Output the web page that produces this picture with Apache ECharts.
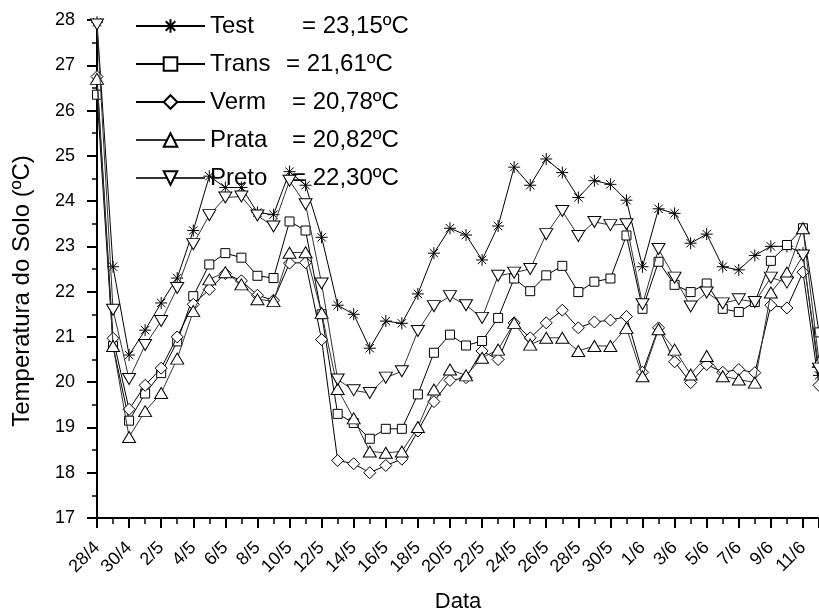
<!DOCTYPE html>
<html>
<head>
<meta charset="utf-8">
<script src="https://cdn.jsdelivr.net/npm/echarts@6/dist/echarts.min.js"></script>
<style>
  html, body { margin: 0; padding: 0; background: #fff; }
  #chart { width: 819px; height: 614px; }
</style>
</head>
<body>
<div id="chart"></div>
<script>
// dias de 28/4 a 12/6
const dates = [
  '28/4', '29/4', '30/4', '1/5', '2/5', '3/5', '4/5', '5/5', '6/5', '7/5',
  '8/5', '9/5', '10/5', '11/5', '12/5', '13/5', '14/5', '15/5', '16/5', '17/5',
  '18/5', '19/5', '20/5', '21/5', '22/5', '23/5', '24/5', '25/5', '26/5', '27/5',
  '28/5', '29/5', '30/5', '31/5', '1/6', '2/6', '3/6', '4/6', '5/6', '6/6',
  '7/6', '8/6', '9/6', '10/6', '11/6', '12/6'
]

const test = [
  27.95, 22.55, 20.6, 21.15, 21.75, 22.3, 23.35, 24.55, 24.3, 24.3,
  23.75, 23.7, 24.65, 24.35, 23.2, 21.7, 21.5, 20.75, 21.35, 21.3,
  21.95, 22.85, 23.4, 23.25, 22.7, 23.45, 24.75, 24.35, 24.93, 24.63,
  24.08, 24.45, 24.37, 24.02, 22.55, 23.83, 23.73, 23.07, 23.27, 22.55,
  22.48, 22.8, 23.0, 23.0, 22.85, 20.15
]
const trans = [
  26.35, 20.8, 19.15, 19.75, 20.2, 20.9, 21.9, 22.6, 22.85, 22.75,
  22.35, 22.3, 23.55, 23.35, 21.5, 19.3, 19.1, 18.75, 18.97, 18.97,
  19.73, 20.65, 21.05, 20.81, 20.91, 21.42, 22.29, 22.01, 22.36, 22.57,
  21.99, 22.22, 22.29, 23.24, 21.62, 22.66, 22.15, 21.99, 22.18, 21.62,
  21.55, 21.77, 22.68, 23.03, 23.4, 21.1
]
const verm = [
  26.75, 20.97, 19.4, 19.93, 20.31, 21.0, 21.72, 22.05, 22.4, 22.24,
  21.92, 21.81, 22.63, 22.64, 20.94, 18.27, 18.2, 18.0, 18.16, 18.3,
  18.92, 19.57, 20.04, 20.1, 20.69, 20.5, 21.31, 20.98, 21.31, 21.59,
  21.2, 21.33, 21.37, 21.45, 20.22, 21.2, 20.45, 19.99, 20.39, 20.22,
  20.28, 20.21, 21.7, 21.64, 22.43, 19.93
]
const prata = [
  26.7, 20.8, 18.79, 19.36, 19.76, 20.52, 21.57, 22.27, 22.43, 22.16,
  21.83, 21.79, 22.86, 22.87, 21.53, 19.85, 19.2, 18.47, 18.44, 18.47,
  19.01, 19.84, 20.28, 20.15, 20.54, 20.72, 21.31, 20.83, 20.98, 20.98,
  20.69, 20.8, 20.8, 21.2, 20.13, 21.17, 20.72, 20.17, 20.58, 20.13,
  20.06, 19.99, 21.98, 22.42, 23.4, 20.45
]
const preto = [
  27.9, 21.6, 20.07, 20.82, 21.35, 22.08, 23.05, 23.69, 24.08, 24.1,
  23.68, 23.44, 24.45, 23.93, 22.18, 20.06, 19.82, 19.76, 20.1, 20.24,
  21.13, 21.68, 21.9, 21.7, 21.42, 22.35, 22.42, 22.5, 23.27, 23.78,
  23.23, 23.54, 23.47, 23.49, 21.72, 22.94, 22.31, 21.67, 21.98, 21.74,
  21.83, 21.77, 22.31, 22.2, 22.8, 20.3
]

const seriesNames = ['Test', 'Trans', 'Verm', 'Prata', 'Preto']
const meanTemps = ['23,15', '21,61', '20,78', '20,82', '22,30']

const FONT = 'Liberation Sans, Arial, sans-serif'

// simbolos
const asterisk = 'path://M5,0L5,10M0,5L10,5M1.5,1.5L8.5,8.5M1.5,8.5L8.5,1.5'
const triUp = 'path://M5,0L10,8.66L0,8.66Z'
const triDown = 'path://M0,0L10,0L5,8.66Z'

const markers = [
  { symbol: asterisk, size: 12, line: '#000' },
  { symbol: 'rect', size: 9, line: '#000' },
  { symbol: 'diamond', size: 12, line: '#000' },
  { symbol: triUp, size: [13, 11], line: '#333' },
  { symbol: triDown, size: [13, 11], line: '#333' }
]

const allData = [test, trans, verm, prata, preto]

const toPairs = (arr) => arr.map((v, i) => [i, v])

const chart = echarts.init(document.getElementById('chart'), null, { renderer: 'canvas' })

const series = seriesNames.map((name, k) => ({
  name: name,
  type: 'line',
  data: toPairs(allData[k]),
  symbol: markers[k].symbol,
  symbolSize: markers[k].size,
  showAllSymbol: true,
  lineStyle: { color: markers[k].line, width: 1 },
  itemStyle: { color: '#fff', borderColor: '#000', borderWidth: 1 },
  emphasis: { disabled: true },
  z: 2 + k
}))

// largura do nome no legenda (alinha o "=")
const nameBox = { Test: 'a', Trans: 'b', Verm: 'c', Prata: 'c', Preto: 'c' }

const option = {
  animation: false,
  backgroundColor: '#fff',
  grid: {
    left: 97,
    right: 0,
    top: 20,
    bottom: 96,
    containLabel: false,
    outerBoundsMode: 'none'
  },
  legend: {
    orient: 'vertical',
    left: 130,
    top: 9,
    itemWidth: 69,
    itemHeight: 17,
    itemGap: 14,
    data: seriesNames,
    textStyle: {
      fontFamily: FONT,
      fontSize: 24,
      color: '#000',
      rich: {
        a: { width: 92, fontFamily: FONT, fontSize: 24, color: '#000', lineHeight: 24 },
        b: { width: 76, fontFamily: FONT, fontSize: 24, color: '#000', lineHeight: 24 },
        c: { width: 82, fontFamily: FONT, fontSize: 24, color: '#000', lineHeight: 24 },
        v: { fontFamily: FONT, fontSize: 24, color: '#000', lineHeight: 24 }
      }
    },
    formatter: (name) => {
      const i = seriesNames.indexOf(name)
      return '{' + nameBox[name] + '|' + name + '}{v|= ' + meanTemps[i] + 'ºC}'
    }
  },
  xAxis: {
    type: 'value',
    min: 0,
    max: 45,
    interval: 2,
    name: 'Data',
    nameLocation: 'middle',
    nameGap: 73,
    nameTextStyle: {
      fontFamily: FONT,
      fontSize: 22,
      color: '#000'
    },
    axisLine: { show: true, onZero: false, lineStyle: { color: '#000', width: 2 } },
    axisTick: { show: true, inside: false, length: 10, lineStyle: { color: '#000', width: 2 } },
    minorTick: { show: true, splitNumber: 2, length: 6, lineStyle: { color: '#000', width: 1.5 } },
    splitLine: { show: false },
    minorSplitLine: { show: false },
    axisLabel: {
      rotate: 45,
      margin: 27,
      fontFamily: FONT,
      fontSize: 18,
      color: '#000',
      showMaxLabel: false,
      formatter: (v) => (v % 2 === 0 && v <= 44 ? dates[v] : '')
    }
  },
  yAxis: {
    type: 'value',
    min: 17,
    max: 28,
    interval: 1,
    name: 'Temperatura do Solo (ºC)',
    nameLocation: 'middle',
    nameGap: 63,
    nameRotate: 90,
    nameTextStyle: {
      fontFamily: FONT,
      fontSize: 24,
      color: '#000',
      padding: [0, 44, 0, 0]
    },
    axisLine: { show: true, lineStyle: { color: '#000', width: 2 } },
    axisTick: { show: true, inside: false, length: 10, lineStyle: { color: '#000', width: 2 } },
    minorTick: { show: true, splitNumber: 2, length: 5, lineStyle: { color: '#000', width: 1.5 } },
    splitLine: { show: false },
    minorSplitLine: { show: false },
    axisLabel: {
      margin: 22,
      fontFamily: FONT,
      fontSize: 18,
      color: '#000'
    }
  },
  series: series
}

chart.setOption(option)
</script>
</body>
</html>
